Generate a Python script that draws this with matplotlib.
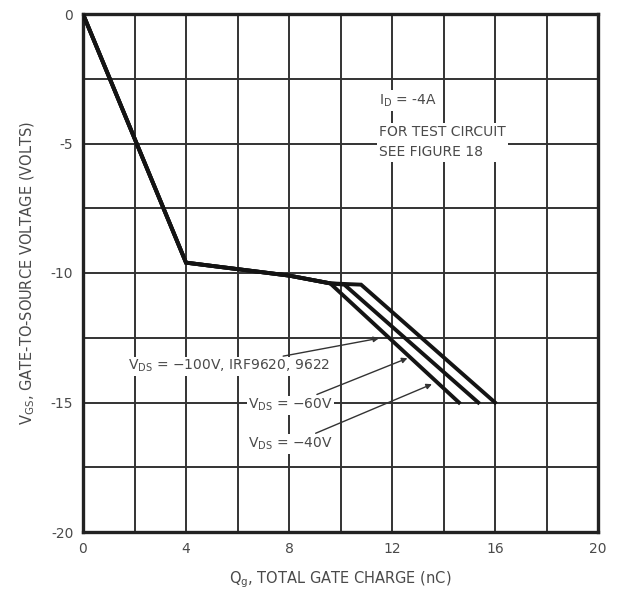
import matplotlib
matplotlib.use("Agg")
import matplotlib.pyplot as plt
from matplotlib import font_manager

# ---- data ----
q_40 = [0, 4, 8, 9.6, 14.6]
v_40 = [0, -9.6, -10.1, -10.4, -15]
q_60 = [0, 4, 8, 9.6, 10.15, 15.35]
v_60 = [0, -9.6, -10.1, -10.4, -10.45, -15]
q_100 = [0, 4, 8, 9.6, 10.8, 16.0]
v_100 = [0, -9.6, -10.1, -10.4, -10.45, -15]

x_ticks = [0, 4, 8, 12, 16, 20]
y_ticks = [0, -5, -10, -15, -20]
x_grid = [2, 4, 6, 8, 10, 12, 14, 16, 18]
y_grid = [-2.5, -5, -7.5, -10, -12.5, -15, -17.5]

names = {f.name for f in font_manager.fontManager.ttflist}
fam = ['Liberation Sans Narrow', 'DejaVu Sans'] if 'Liberation Sans Narrow' in names else ['DejaVu Sans']
plt.rcParams['font.family'] = fam
plt.rcParams['mathtext.fontset'] = 'custom'
plt.rcParams['mathtext.rm'] = fam[0]

txt = '#4a4a4a'
fig = plt.figure(figsize=(6.18, 5.95), dpi=100)
ax = fig.add_axes([83/618, 1-532/595, (598-83)/618, (532-14)/595])
ax.set_xlim(0, 20)
ax.set_ylim(-20, 0)

for xg in x_grid:
    ax.axvline(xg, color='#333333', lw=1.4, zorder=1)
for yg in y_grid:
    ax.axhline(yg, color='#333333', lw=1.4, zorder=1)

for q, v in [(q_40, v_40), (q_60, v_60), (q_100, v_100)]:
    ax.plot(q, v, color='#141414', lw=2.8, solid_joinstyle='miter', zorder=3)

for s in ax.spines.values():
    s.set_linewidth(2.4)
    s.set_color('#222222')

ax.set_xticks(x_ticks)
ax.set_yticks(y_ticks)
ax.set_xticklabels([str(t) for t in x_ticks])
ax.set_yticklabels([str(t) for t in y_ticks])
ax.tick_params(length=0, pad=7, labelsize=10, labelcolor=txt)

ax.set_xlabel(r'$\mathregular{Q_g}$, TOTAL GATE CHARGE (nC)', fontsize=10.5, color=txt, labelpad=10)
ax.set_ylabel(r'$\mathregular{V_{GS}}$, GATE-TO-SOURCE VOLTAGE (VOLTS)', fontsize=10.5, color=txt, labelpad=10)

bbox = dict(facecolor='white', edgecolor='none', pad=1.5)
ax.text(11.5, -3.35, r'$\mathregular{I_D}$ = -4A', fontsize=10, color=txt, va='center', ha='left', bbox=bbox, zorder=4)
ax.text(11.5, -4.3, 'FOR TEST CIRCUIT\nSEE FIGURE 18', fontsize=10, color=txt, va='top', ha='left',
        linespacing=1.55, bbox=bbox, zorder=4)

arrowp = dict(arrowstyle='-|>', color='#333333', lw=1.0, mutation_scale=8)
ax.annotate(r'$\mathregular{V_{DS}}$ = −100V, IRF9620, 9622', xy=(11.6, -12.5), xytext=(9.6, -13.6),
            fontsize=10, color=txt, ha='right', va='center', arrowprops=arrowp,
            bbox=dict(facecolor='white', edgecolor='none', pad=1), zorder=4)
ax.annotate(r'$\mathregular{V_{DS}}$ = −60V', xy=(12.7, -13.25), xytext=(9.7, -15.1),
            fontsize=10, color=txt, ha='right', va='center', arrowprops=arrowp,
            bbox=dict(facecolor='white', edgecolor='none', pad=1), zorder=4)
ax.annotate(r'$\mathregular{V_{DS}}$ = −40V', xy=(13.65, -14.25), xytext=(9.7, -16.6),
            fontsize=10, color=txt, ha='right', va='center', arrowprops=arrowp,
            bbox=dict(facecolor='white', edgecolor='none', pad=1), zorder=4)

fig.savefig('out.png', dpi=100, facecolor='white')
